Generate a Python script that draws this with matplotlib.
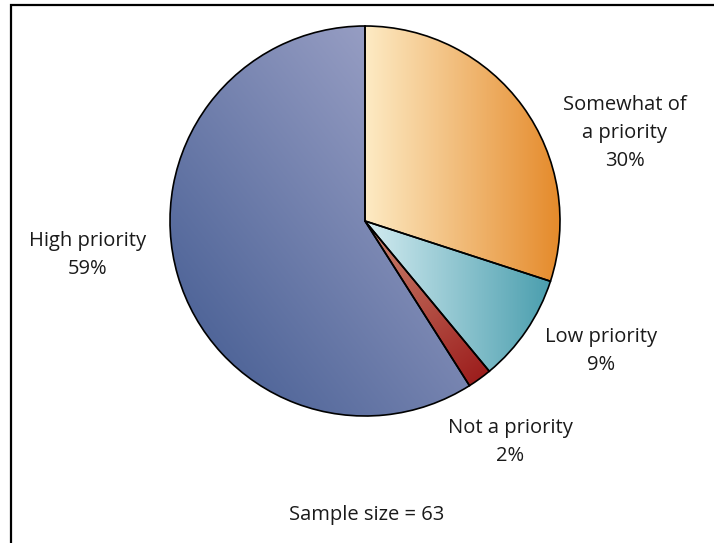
import numpy as np
import matplotlib
matplotlib.use("Agg")
import matplotlib.pyplot as plt
from matplotlib.colors import to_rgb
from matplotlib.patches import Rectangle

plt.rcParams['font.family'] = ['Open Sans', 'DejaVu Sans']

# Survey answers, clockwise from the top
labels = ["Somewhat of\na priority", "Low priority", "Not a priority", "High priority"]
shares = [30, 9, 2, 59]
sample_size = 63

# gradient end colours (light end, dark end) and direction of each slice
grad_start = ["#fdebc4", "#d4ecf1", "#cc8872", "#a9acce"]
grad_end = ["#e58a2b", "#4a9eae", "#9a1818", "#3f588f"]
grad_dir = [(1, 0), (1, 0), (0.6, -1), (-1, -1)]

# label anchor points (pixel units, y measured from the bottom)
label_xy = [(625, 410), (601, 192), (510, 101), (88, 288)]

W, H = 714, 543
fig = plt.figure(figsize=(W / 100, H / 100), dpi=100)
ax = fig.add_axes([0, 0, 1, 1])

cx, cy, r = 365, 322, 195
wedges, _ = ax.pie(shares, startangle=90, counterclock=False,
                   center=(cx, cy), radius=r,
                   wedgeprops=dict(facecolor='none', edgecolor='black',
                                   linewidth=1.2, zorder=3))


def gradient(c0, c1, direction, n=256):
    d = np.array(direction, float)
    d /= np.linalg.norm(d)
    u, v = np.meshgrid(np.linspace(0, 1, n), np.linspace(0, 1, n))
    t = u * d[0] + v * d[1]
    t = (t - t.min()) / (t.max() - t.min())
    a, b = np.array(to_rgb(c0)), np.array(to_rgb(c1))
    return a + t[..., None] * (b - a)


for w, c0, c1, d in zip(wedges, grad_start, grad_end, grad_dir):
    bb = w.get_path().get_extents()
    img = gradient(c0, c1, d)
    im = ax.imshow(img, extent=[bb.x0, bb.x1, bb.y0, bb.y1], origin='lower',
                   interpolation='bilinear', zorder=2)
    im.set_clip_path(w)

for (x, y), lab, s in zip(label_xy, labels, shares):
    ax.text(x, y, f"{lab}\n{s}%", ha='center', va='center', fontsize=14.5,
            linespacing=1.5, color='#1a1a1a')

ax.text(367, 28, f"Sample size = {sample_size}", ha='center', va='center',
        fontsize=14.5, color='#1a1a1a')

# frame around the chart, running off the right and bottom edges
ax.add_patch(Rectangle((11, -20), W, H - 5 + 20, facecolor='none',
                       edgecolor='black', linewidth=1.6, zorder=5))

ax.set_xlim(0, W)
ax.set_ylim(0, H)
ax.set_aspect('equal')
ax.axis('off')

fig.savefig("out.png", dpi=100)
